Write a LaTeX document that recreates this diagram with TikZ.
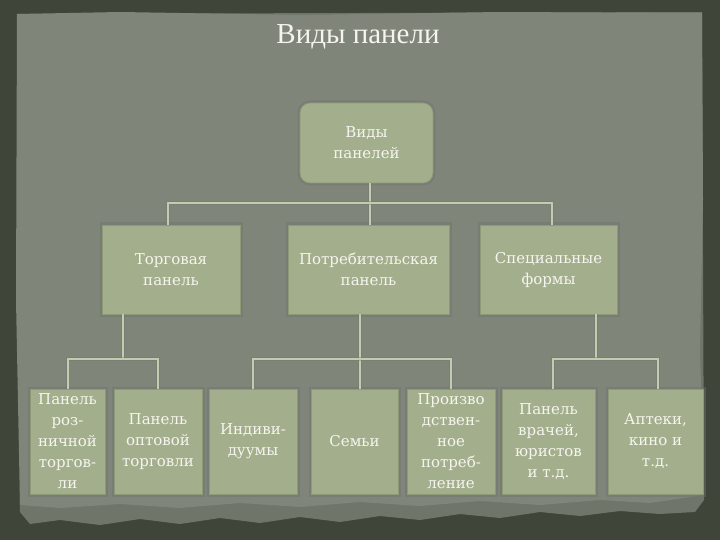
\documentclass[tikz,border=0pt]{standalone}
\usepackage{fontspec}
\setmainfont{DejaVu Serif}
\newfontfamily\titlefont{Liberation Serif}
\newfontfamily\boxfontfam{DejaVu Serif}
\definecolor{frame}{HTML}{3F4538}
\definecolor{paper}{HTML}{80857A}
\definecolor{paperedge}{HTML}{6F7568}
\definecolor{boxfill}{HTML}{A2AE8C}
\definecolor{boxedge}{HTML}{8C9A76}
\definecolor{boxshade}{HTML}{6E7570}
\definecolor{conncol}{HTML}{C3CCAE}
\definecolor{txt}{HTML}{F5F5EE}
\tikzset{
  box/.style={draw=boxedge, fill=boxfill, text=txt, align=center, inner sep=0pt,
    line width=0.8pt, font=\boxfontfam\fontsize{15}{21}\selectfont,
    preaction={draw=boxshade, line width=5pt, opacity=0.45}},
  conn/.style={draw=conncol, line width=2pt,
    preaction={draw=boxshade, line width=3.5pt, opacity=0.35}},
}
\begin{document}
\begin{tikzpicture}[x=1pt,y=-1pt]
\useasboundingbox (0,0) rectangle (720,540);
% frame and paper
\fill[frame] (0,0) rectangle (720,540);
\fill[paperedge] (18,14) -- (702,12) -- (704,500) -- (695,512) -- (660,514) -- (620,511)
  -- (580,516) -- (540,512) -- (500,518) -- (460,514) -- (420,520) -- (380,516) -- (340,522)
  -- (300,517) -- (260,523) -- (220,518) -- (180,524) -- (140,519) -- (100,525) -- (60,520)
  -- (30,524) -- (20,512) -- cycle;
\fill[paper] (17,14) -- (120,12) -- (300,15) -- (500,12) -- (702,13) -- (703,200)
  -- (700,350) -- (704,495) -- (650,503) -- (600,500) -- (540,505) -- (480,501)
  -- (420,506) -- (360,502) -- (300,507) -- (240,503) -- (180,508) -- (120,504)
  -- (60,508) -- (20,505) -- (16,300) -- cycle;
% title
\node[text=txt, font=\titlefont\fontsize{29}{33}\selectfont, anchor=base] (title) at (358,44) {Виды панели};
% boxes
\node[box, rounded corners=10pt, minimum width=133pt, minimum height=80pt] (root) at (366.5,143) {Виды\\панелей};
\node[box, minimum width=138pt, minimum height=89pt] (T) at (171,269.5) {Торговая\\панель};
\node[box, minimum width=161pt, minimum height=89pt] (P) at (368.5,269.5) {Потребительская\\панель};
\node[box, minimum width=137pt, minimum height=89pt] (S) at (548.5,269.5) {Специальные\\формы};
\node[box, minimum width=75pt, minimum height=105pt] (B1) at (67.5,441.5) {Панель\\роз-\\ничной\\торгов-\\ли};
\node[box, minimum width=88pt, minimum height=105pt] (B2) at (158,441.5) {Панель\\оптовой\\торговли};
\node[box, minimum width=88pt, minimum height=105pt] (B3) at (253,441.5) {Индиви-\\дуумы};
\node[box, minimum width=87pt, minimum height=105pt] (B4) at (354.5,441.5) {Семьи};
\node[box, minimum width=88pt, minimum height=105pt] (B5) at (451,441.5) {Произво\\дствен-\\ное\\потреб-\\ление};
\node[box, minimum width=93pt, minimum height=105pt] (B6) at (548.5,441.5) {Панель\\врачей,\\юристов\\и т.д.};
\node[box, minimum width=95pt, minimum height=105pt] (B7) at (655.5,441.5) {Аптеки,\\кино и\\т.д.};
% junction coordinates
\coordinate (jr) at (370,203);
\coordinate (ta) at (168,203);
\coordinate (sa) at (552,203);
\coordinate (tj) at (123,359);
\coordinate (pj) at (360,359);
\coordinate (sj) at (596,359);
\coordinate (b6x) at (553,389);
\coordinate (b7x) at (658,389);
% connectors
\draw[conn] (root.south -| jr) -- (P.north -| jr);
\draw[conn] (T.north -| ta) |- (jr) -| (S.north -| sa);
\draw[conn] (T.south -| tj) -- (tj);
\draw[conn] (B1.north) |- (tj) -| (B2.north);
\draw[conn] (P.south -| pj) -- (B4.north -| pj);
\draw[conn] (B3.north) |- (pj) -| (B5.north);
\draw[conn] (S.south -| sj) -- (sj);
\draw[conn] (B6.north -| b6x) |- (sj) -| (B7.north -| b7x);
\end{tikzpicture}
\end{document}
